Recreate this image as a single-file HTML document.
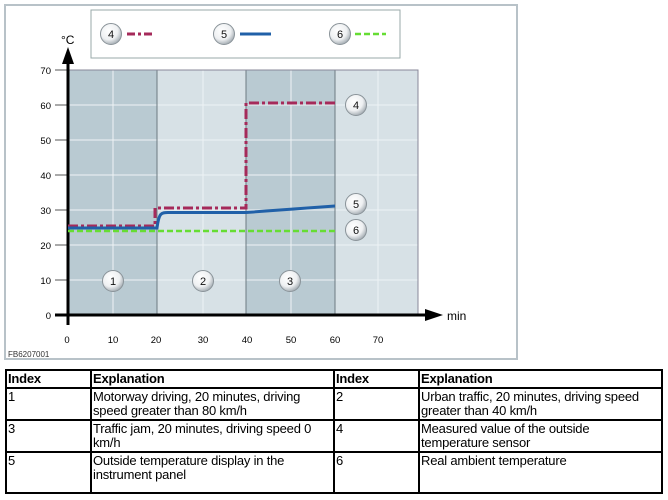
<!DOCTYPE html>
<html><head><meta charset="utf-8"><style>
body{margin:0;background:#fff;width:668px;height:500px;overflow:hidden;font-family:"Liberation Sans",sans-serif}
table{position:absolute;left:5px;top:369px;border-collapse:collapse;font-size:13px;letter-spacing:-0.2px;width:658px;table-layout:fixed}
td{border:2px solid #000;vertical-align:top;padding:1px 1px 0;line-height:14px}
</style></head><body>
<svg width="668" height="365" style="position:absolute;left:0;top:0" font-family="Liberation Sans, sans-serif">
<defs><radialGradient id="g" cx="40%" cy="35%" r="70%"><stop offset="0" stop-color="#fff"/><stop offset="0.6" stop-color="#eef0f2"/><stop offset="1" stop-color="#9aa3aa"/></radialGradient></defs>
<rect x="5" y="5" width="512" height="354" fill="#fff" stroke="#b8c2c8" stroke-width="2"/>
<rect x="91" y="10" width="309" height="48" fill="#fff" stroke="#9aa" stroke-width="1"/>
<rect x="68" y="70" width="350" height="245" fill="#d7e1e6"/>
<rect x="68" y="70" width="89" height="245" fill="#b9cad2"/>
<rect x="246" y="70" width="89" height="245" fill="#b9cad2"/>
<g stroke="#eef3f5" stroke-width="1">
<line x1="68" y1="105" x2="418" y2="105"/><line x1="68" y1="140" x2="418" y2="140"/><line x1="68" y1="175" x2="418" y2="175"/><line x1="68" y1="210" x2="418" y2="210"/><line x1="68" y1="245" x2="418" y2="245"/><line x1="68" y1="280" x2="418" y2="280"/>
<line x1="113" y1="70" x2="113" y2="315"/><line x1="203" y1="70" x2="203" y2="315"/><line x1="291" y1="70" x2="291" y2="315"/><line x1="378" y1="70" x2="378" y2="315"/>
</g>
<g stroke="#6d7b82" stroke-width="1"><line x1="157" y1="70" x2="157" y2="315"/><line x1="246" y1="70" x2="246" y2="315"/><line x1="335" y1="70" x2="335" y2="315"/><rect x="68" y="70" width="350" height="245" fill="none" stroke="#889"/></g>
<g stroke="#555" stroke-width="1"><line x1="55" y1="70" x2="68" y2="70"/><line x1="55" y1="105" x2="68" y2="105"/><line x1="55" y1="140" x2="68" y2="140"/><line x1="55" y1="175" x2="68" y2="175"/><line x1="55" y1="210" x2="68" y2="210"/><line x1="55" y1="245" x2="68" y2="245"/><line x1="55" y1="280" x2="68" y2="280"/></g>
<line x1="68" y1="325" x2="68" y2="60" stroke="#000" stroke-width="3"/>
<polygon points="68,47 62,64 74,64" fill="#000"/>
<line x1="55" y1="315" x2="430" y2="315" stroke="#000" stroke-width="3"/>
<polygon points="443,315 425,309 425,321" fill="#000"/>
<g font-size="9.5" fill="#000" text-anchor="end"><text x="51" y="74">70</text><text x="51" y="109">60</text><text x="51" y="144">50</text><text x="51" y="179">40</text><text x="51" y="214">30</text><text x="51" y="249">20</text><text x="51" y="284">10</text><text x="51" y="319">0</text></g>
<g font-size="9.5" text-anchor="middle"><text x="67" y="343">0</text><text x="113" y="343">10</text><text x="156" y="343">20</text><text x="203" y="343">30</text><text x="247" y="343">40</text><text x="291" y="343">50</text><text x="335" y="343">60</text><text x="378" y="343">70</text></g>
<text x="61" y="44" font-size="12">°C</text>
<text x="447" y="320" font-size="12">min</text>
<text x="8" y="357" font-size="8" fill="#333">FB6207001</text>
<path d="M68,226 H155 V208 H246 V103 H335" fill="none" stroke="#a52a5a" stroke-width="3" stroke-dasharray="10,3,3,3"/>
<path d="M68,228 H157 C159,213 161,212.5 168,212.5 H246 L335,206" fill="none" stroke="#2060a8" stroke-width="3"/>
<line x1="68" y1="231" x2="335" y2="231" stroke="#66dd33" stroke-width="2.5" stroke-dasharray="6,3"/>
<path d="M127,34 H155" stroke="#a52a5a" stroke-width="3" stroke-dasharray="8,3,3,3"/>
<path d="M240,34 H271" stroke="#2060a8" stroke-width="3"/>
<path d="M355,34 H386" stroke="#66dd33" stroke-width="2.5" stroke-dasharray="6,3"/>
<g stroke="#8a9399" stroke-width="1" fill="url(#g)">
<circle cx="111" cy="34" r="10.5"/><circle cx="224" cy="34" r="10.5"/><circle cx="340" cy="34" r="10.5"/>
<circle cx="113" cy="281" r="10.5"/><circle cx="203" cy="281" r="10.5"/><circle cx="290" cy="281" r="10.5"/>
<circle cx="356" cy="105" r="10.5"/><circle cx="356" cy="204" r="10.5"/><circle cx="356" cy="230" r="10.5"/></g>
<g font-size="11" text-anchor="middle" fill="#111">
<text x="111" y="38">4</text><text x="224" y="38">5</text><text x="340" y="38">6</text>
<text x="113" y="285">1</text><text x="203" y="285">2</text><text x="290" y="285">3</text>
<text x="356" y="109">4</text><text x="356" y="208">5</text><text x="356" y="234">6</text></g>
</svg>
<table>
<colgroup><col style="width:85px"><col style="width:243px"><col style="width:85px"><col></colgroup>
<tr style="height:18px"><td><b>Index</b></td><td><b>Explanation</b></td><td><b>Index</b></td><td><b>Explanation</b></td></tr>
<tr style="height:32px"><td>1</td><td>Motorway driving, 20 minutes, driving speed greater than 80 km/h</td><td>2</td><td>Urban traffic, 20 minutes, driving speed greater than 40 km/h</td></tr>
<tr style="height:32px"><td>3</td><td>Traffic jam, 20 minutes, driving speed 0 km/h</td><td>4</td><td>Measured value of the outside temperature sensor</td></tr>
<tr style="height:41px"><td>5</td><td>Outside temperature display in the instrument panel</td><td>6</td><td>Real ambient temperature</td></tr>
</table>
</body></html>
